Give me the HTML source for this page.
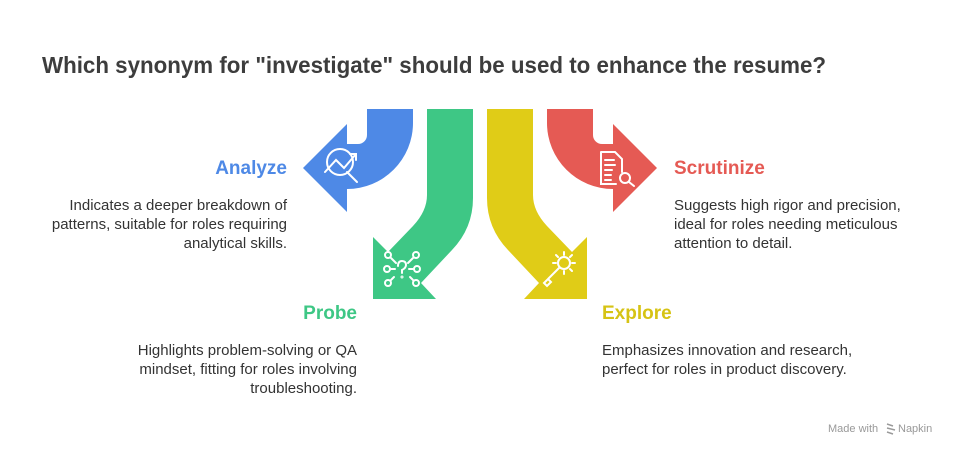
<!DOCTYPE html>
<html><head><meta charset="utf-8"><style>
html,body{margin:0;padding:0;background:#fff;}
svg{display:block;font-family:"Liberation Sans",sans-serif;}
</style></head><body>
<svg width="960" height="456" viewBox="0 0 960 456" xmlns="http://www.w3.org/2000/svg">
<rect width="960" height="456" fill="#fff"/>
<text x="42" y="73" font-size="23" font-weight="bold" fill="#3d3d3d" textLength="784" lengthAdjust="spacingAndGlyphs">Which synonym for "investigate" should be used to enhance the resume?</text>

<path d="M367,109 L413,109 L413,123 A66,66 0 0 1 347,189 L347,212 L303,168 L347,124 L347,144 L358,144 A9,9 0 0 0 367,135 Z" fill="#4e89e6"/>
<path d="M593,109 L547,109 L547,123 A66,66 0 0 0 613,189 L613,212 L657,168 L613,124 L613,144 L602,144 A9,9 0 0 1 593,135 Z" fill="#e55a54"/>
<path d="M427,109 L473,109 L473,198 Q473,228 452,250 L421,283 L436,299 L373,299 L373,237 L388,252 L413,226 Q427,211 427,195 Z" fill="#3ec785"/>
<path d="M533,109 L487,109 L487,198 Q487,228 508,250 L539,283 L524,299 L587,299 L587,237 L572,252 L547,226 Q533,211 533,195 Z" fill="#e0cc17"/>

<g stroke="#fff" stroke-width="2" fill="none" stroke-linecap="round">
 <circle cx="340" cy="162" r="13"/>
 <path d="M325,172 L336,160 L344,168 L356,154 M350,154 L356,154 L356,160"/>
 <path d="M347,172 L357,182"/>
 <path d="M601,152 L615,152 L622,159 L622,172 M616,184 L601,184 L601,152"/>
 <path d="M605,160 L614,160 M605,165 L615,165 M605,170 L612,170 M605,175 L611,175 M605,180 L611,180"/>
 <circle cx="625" cy="178" r="5"/><path d="M629,182 L634,186"/>
 <circle cx="388" cy="255" r="3"/><circle cx="416" cy="255" r="3"/><circle cx="387" cy="269" r="3"/><circle cx="417" cy="269" r="3"/><circle cx="388" cy="283" r="3"/><circle cx="416" cy="283" r="3"/>
 <path d="M391,258 L396,263 M413,258 L408,263 M390,269 L395,269 M414,269 L409,269 M391,280 L394,277 M413,280 L410,277"/>
 <path d="M398,266 Q398,261 402,261 Q406,261 406,265 Q406,268 402,270 L402,273"/><circle cx="402" cy="277" r="0.5"/>
 <circle cx="564" cy="263" r="6"/>
 <path d="M564,252 L564,255 M564,271 L564,274 M553,263 L556,263 M572,263 L575,263 M556,255 L558,257 M570,269 L572,271 M572,255 L570,257"/>
 <path d="M559,268 L548,279 M544,283 L548,279 L551,282 L547,286 Z"/>
</g>

<text x="287" y="174" text-anchor="end" font-size="19" font-weight="bold" fill="#4e89e6">Analyze</text>
<g font-size="15" fill="#333" text-anchor="end">
<text x="287" y="210">Indicates a deeper breakdown of</text>
<text x="287" y="229">patterns, suitable for roles requiring</text>
<text x="287" y="248">analytical skills.</text>
</g>
<text x="674" y="174" font-size="19" font-weight="bold" fill="#e55a54">Scrutinize</text>
<g font-size="15" fill="#333">
<text x="674" y="210">Suggests high rigor and precision,</text>
<text x="674" y="229">ideal for roles needing meticulous</text>
<text x="674" y="248">attention to detail.</text>
</g>
<text x="357" y="319" text-anchor="end" font-size="19" font-weight="bold" fill="#3ec785">Probe</text>
<g font-size="15" fill="#333" text-anchor="end">
<text x="357" y="355">Highlights problem-solving or QA</text>
<text x="357" y="374">mindset, fitting for roles involving</text>
<text x="357" y="393">troubleshooting.</text>
</g>
<text x="602" y="319" font-size="19" font-weight="bold" fill="#d6c314">Explore</text>
<g font-size="15" fill="#333">
<text x="602" y="355">Emphasizes innovation and research,</text>
<text x="602" y="374">perfect for roles in product discovery.</text>
</g>
<text x="828" y="432" font-size="11" fill="#999">Made with</text>
<path d="M887,424 L893,426 M887,428 L895,430 M887,432 L893,434" stroke="#999" stroke-width="1.5"/>
<text x="898" y="432" font-size="11" fill="#999">Napkin</text>
</svg>
</body></html>
